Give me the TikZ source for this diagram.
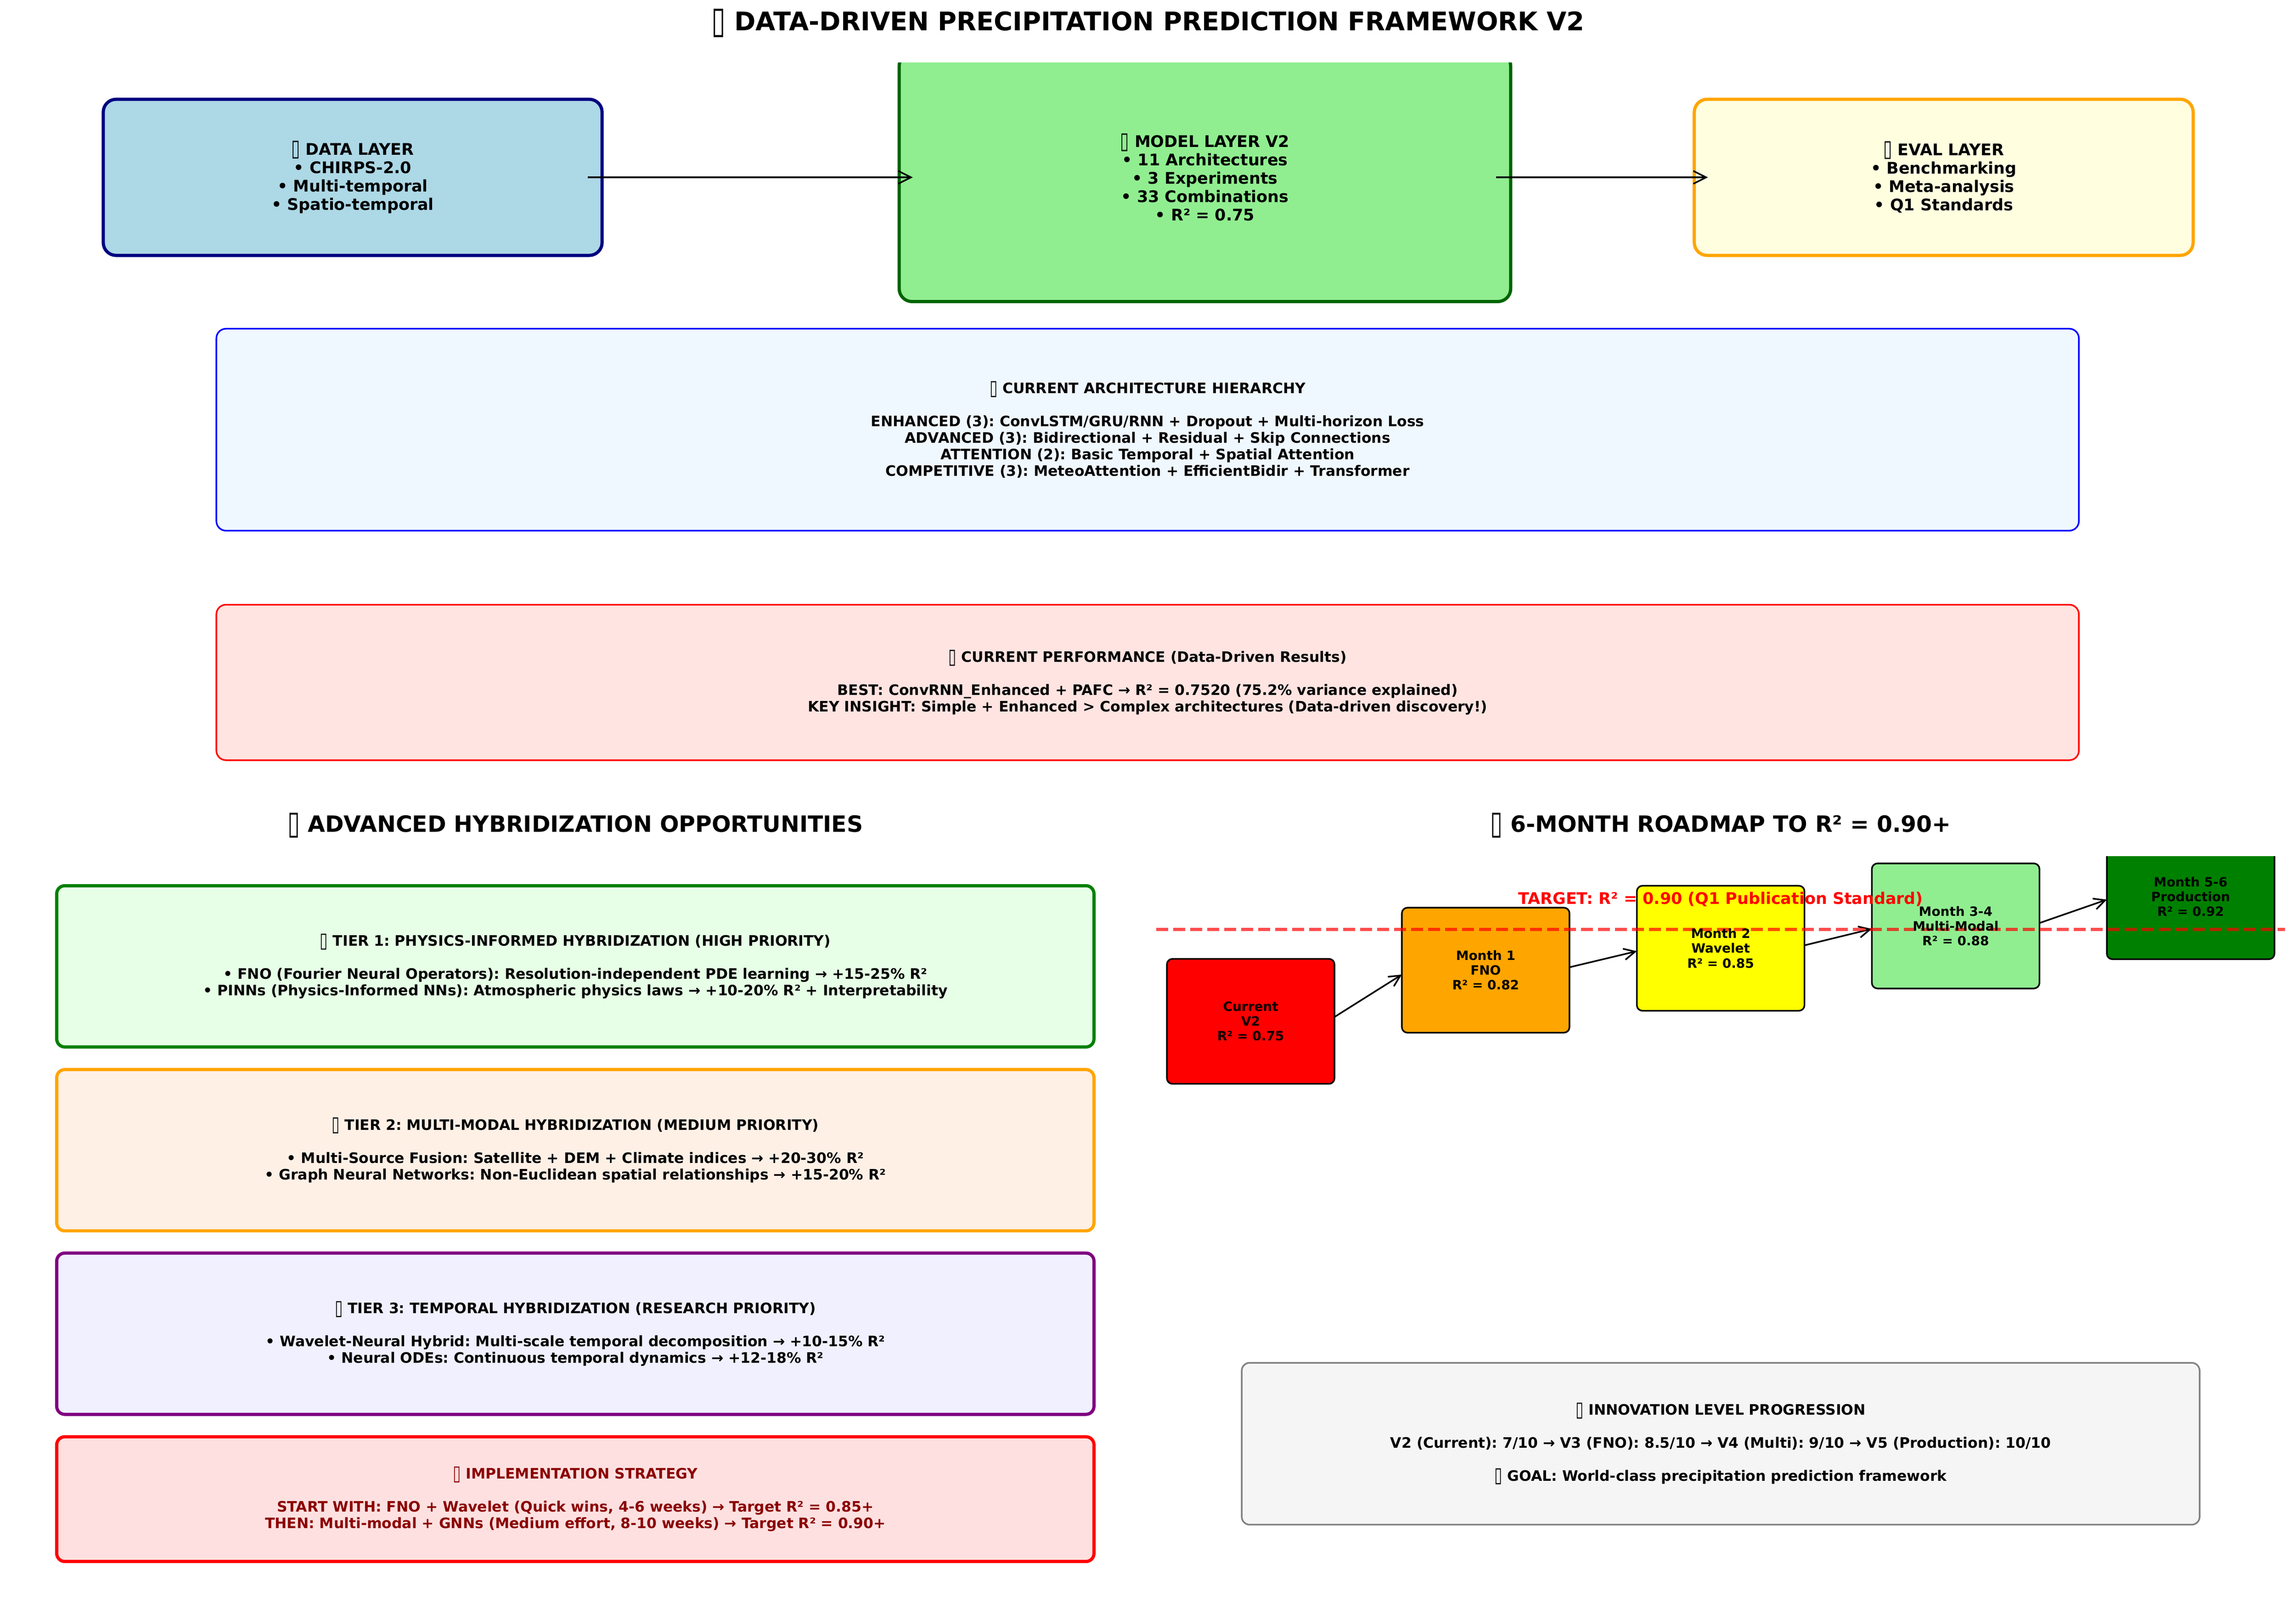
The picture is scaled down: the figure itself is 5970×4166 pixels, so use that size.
\documentclass[tikz,border=0pt]{standalone}
\usepackage{fontspec}
\setmainfont{DejaVu Sans}
\usetikzlibrary{arrows.meta}
\newcommand\tofu{\raisebox{-0.08em}{\scalebox{1}[1.45]{▯}}}
\definecolor{navy}{HTML}{000080}
\definecolor{lightblue}{HTML}{ADD8E6}
\definecolor{darkgreen}{HTML}{006400}
\definecolor{lightgreen}{HTML}{90EE90}
\definecolor{lightyellow}{HTML}{FFFFE0}
\definecolor{orange1}{HTML}{FFA500}
\definecolor{yellow1}{HTML}{FFFF00}
\definecolor{green1}{HTML}{008000}
\definecolor{purple1}{HTML}{800080}
\definecolor{gray1}{HTML}{808080}
\definecolor{darkred}{HTML}{8B0000}
\definecolor{archfill}{HTML}{F0F8FF}
\definecolor{perffill}{HTML}{FFE4E1}
\definecolor{tieronefill}{HTML}{E6FFE6}
\definecolor{tiertwofill}{HTML}{FFF0E6}
\definecolor{tierthreefill}{HTML}{F0F0FF}
\definecolor{implfill}{HTML}{FFE0E0}
\definecolor{innofill}{HTML}{F5F5F5}

\begin{document}
\frenchspacing
\begin{tikzpicture}[x=0.24pt, y=-0.24pt,
    label9/.style = {align=center, font=\fontsize{9}{10.3}\selectfont\bfseries},
    layer/.style = {draw, line width=2pt, rounded corners=8pt, outer sep=0pt, inner sep=0pt, align=center, font=\fontsize{10}{11.5}\selectfont\bfseries, minimum width=311.3pt, minimum height=97.4pt},
    wide/.style = {draw, line width=1pt, rounded corners=6pt, outer sep=0pt, inner sep=0pt, label9, minimum width=1162.3pt},
    tier/.style = {draw, line width=2pt, rounded corners=5pt, outer sep=0pt, inner sep=0pt, label9, minimum width=647.3pt, minimum height=100.6pt},
    road/.style = {draw=black, line width=1pt, rounded corners=3.5pt, outer sep=0pt, inner sep=0pt, minimum width=104.6pt, minimum height=78pt},
    roadtext/.style = {align=center, inner sep=0pt, font=\fontsize{8}{9.2}\selectfont\bfseries},
    header/.style = {font=\fontsize{14}{16}\selectfont\bfseries, inner sep=0pt},
    flow/.style = {-{Straight Barb[length=8pt,width=8pt]}, line width=1pt, shorten <=-9pt, shorten >=-8.5pt},
    roadarrow/.style = {-{Straight Barb[length=7pt,width=7pt]}, line width=1pt}]
    \useasboundingbox (0,0) rectangle (5970,4166);

    \node at (2985,60) [font=\fontsize{16}{18}\selectfont\bfseries, inner sep=0pt] (title) {\tofu{} DATA-DRIVEN PRECIPITATION PREDICTION FRAMEWORK V2};

    %Layers
    \node at (917,461) [layer, draw=navy, fill=lightblue] (data) {\tofu{} DATA LAYER\\• CHIRPS-2.0\\• Multi-temporal\\• Spatio-temporal};
    \begin{scope}
        \clip (0,163) rectangle (5970,1000);
        \node at (3133,461) [layer, draw=darkgreen, fill=lightgreen, minimum width=381.6pt, minimum height=155pt] (model) {\tofu{} MODEL LAYER V2\\• 11 Architectures\\• 3 Experiments\\• 33 Combinations\\• R² = 0.75};
    \end{scope}
    \node at (5054,461) [layer, draw=orange1, fill=lightyellow] (evalbox) {\tofu{} EVAL LAYER\\• Benchmarking\\• Meta-analysis\\• Q1 Standards};

    \draw[flow] (data.east) -- (model.west);
    \draw[flow] (model.east) -- (evalbox.west);

    %Current state
    \node at (2984,1117) [wide, draw=blue, fill=archfill, minimum height=126pt] (arch) {\tofu{} CURRENT ARCHITECTURE HIERARCHY\\[\baselineskip]ENHANCED (3): ConvLSTM/GRU/RNN + Dropout + Multi-horizon Loss\\ADVANCED (3): Bidirectional + Residual + Skip Connections\\ATTENTION (2): Basic Temporal + Spatial Attention\\COMPETITIVE (3): MeteoAttention + EfficientBidir + Transformer};
    \node at (2984,1774) [wide, draw=red, fill=perffill, minimum height=97pt] (perf) {\tofu{} CURRENT PERFORMANCE (Data-Driven Results)\\[\baselineskip]BEST: ConvRNN\_Enhanced + PAFC → R² = 0.7520 (75.2\% variance explained)\\KEY INSIGHT: Simple + Enhanced > Complex architectures (Data-driven discovery!)};

    %Hybridization
    \node at (1496,2146) [header] (hybrid) {\tofu{} ADVANCED HYBRIDIZATION OPPORTUNITIES};
    \node at (1496,2512) [tier, draw=green1, fill=tieronefill] (tierone) {\tofu{} TIER 1: PHYSICS-INFORMED HYBRIDIZATION (HIGH PRIORITY)\\[\baselineskip]• FNO (Fourier Neural Operators): Resolution-independent PDE learning → +15-25\% R²\\• PINNs (Physics-Informed NNs): Atmospheric physics laws → +10-20\% R² + Interpretability};
    \node at (1496,2990) [tier, draw=orange1, fill=tiertwofill] (tiertwo) {\tofu{} TIER 2: MULTI-MODAL HYBRIDIZATION (MEDIUM PRIORITY)\\[\baselineskip]• Multi-Source Fusion: Satellite + DEM + Climate indices → +20-30\% R²\\• Graph Neural Networks: Non-Euclidean spatial relationships → +15-20\% R²};
    \node at (1496,3467) [tier, draw=purple1, fill=tierthreefill] (tierthree) {\tofu{} TIER 3: TEMPORAL HYBRIDIZATION (RESEARCH PRIORITY)\\[\baselineskip]• Wavelet-Neural Hybrid: Multi-scale temporal decomposition → +10-15\% R²\\• Neural ODEs: Continuous temporal dynamics → +12-18\% R²};
    \node at (1496,3897) [tier, draw=red, fill=implfill, text=darkred, minimum height=77.8pt] (impl) {\tofu{} IMPLEMENTATION STRATEGY\\[\baselineskip]START WITH: FNO + Wavelet (Quick wins, 4-6 weeks) → Target R² = 0.85+\\THEN: Multi-modal + GNNs (Medium effort, 8-10 weeks) → Target R² = 0.90+};

    %Roadmap
    \node at (4474,2146) [header] (roadmap) {\tofu{} 6-MONTH ROADMAP TO R² = 0.90+};
    \node at (3252,2655) [road, fill=red] (cur) {};
    \node at (3863,2522) [road, fill=orange1] (mone) {};
    \node at (4474,2465) [road, fill=yellow1] (mtwo) {};
    \node at (5085,2407) [road, fill=lightgreen] (mfour) {};
    \begin{scope}
        \clip (0,2226) rectangle (5970,2800);
        \node at (5696,2331) [road, fill=green1] (msix) {};
    \end{scope}

    \draw[roadarrow] (cur.3) -- (mone.183);
    \draw[roadarrow] (mone.2) -- (mtwo.182);
    \draw[roadarrow] (mtwo.2) -- (mfour.182);
    \draw[roadarrow] (mfour.2) -- (msix.182);

    %Target
    \coordinate (tstart) at (3007,2416);
    \coordinate (tend) at (5941,2416);
    \draw[red, opacity=0.7, line width=2pt, dash pattern=on 7.4pt off 3.2pt] (tstart) -- (tend);

    \node at (cur) [roadtext] (curtext) {Current\\V2\\R² = 0.75};
    \node at (mone) [roadtext] (monetext) {Month 1\\FNO\\R² = 0.82};
    \node at (mtwo) [roadtext] (mtwotext) {Month 2\\Wavelet\\R² = 0.85};
    \node at (mfour) [roadtext] (mfourtext) {Month 3-4\\Multi-Modal\\R² = 0.88};
    \node at (msix) [roadtext] (msixtext) {Month 5-6\\Production\\R² = 0.92};
    \node at (4474,2337) [red, inner sep=0pt, font=\fontsize{10}{11.5}\selectfont\bfseries] (target) {TARGET: R² = 0.90 (Q1 Publication Standard)};

    %Innovation
    \node at (4474,3753) [draw=gray1, fill=innofill, line width=1pt, rounded corners=5pt, outer sep=0pt, inner sep=0pt, label9, minimum width=597.8pt, minimum height=101pt] (inno) {\tofu{} INNOVATION LEVEL PROGRESSION\\[\baselineskip]V2 (Current): 7/10 → V3 (FNO): 8.5/10 → V4 (Multi): 9/10 → V5 (Production): 10/10\\[\baselineskip]\tofu{} GOAL: World-class precipitation prediction framework};
\end{tikzpicture}
\end{document}
